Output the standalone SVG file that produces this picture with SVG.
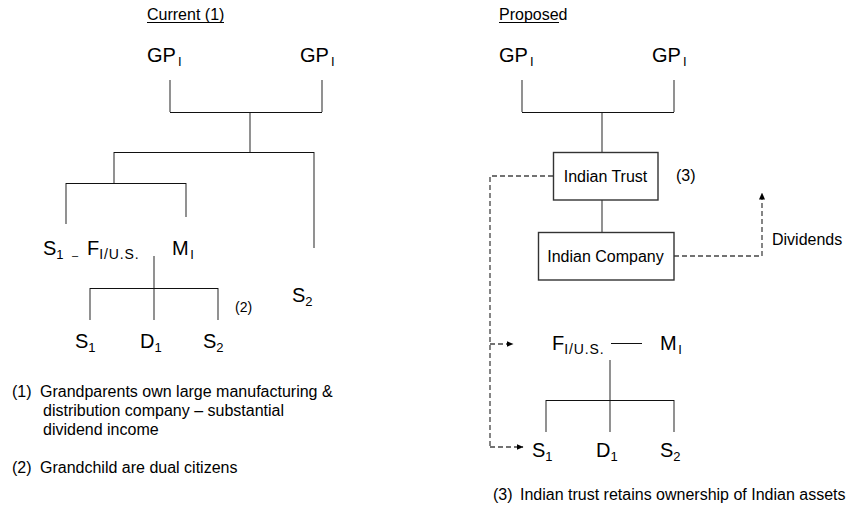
<svg xmlns="http://www.w3.org/2000/svg" width="846" height="508" viewBox="0 0 846 508">
<style>
text{font-family:"Liberation Sans",Arial,sans-serif;fill:#000}
.big{font-size:20px}
.sub{font-size:13px}
.us{font-size:14px;letter-spacing:0.9px}
.sm{font-size:16px}
.v{stroke:#777;stroke-width:1.6;fill:none}
.h{stroke:#111;stroke-width:1;fill:none}
.box{fill:#fff;stroke:#333;stroke-width:1.4}
.d{stroke:#444;stroke-width:1.3;fill:none;stroke-dasharray:5 3}
</style>
<defs>
<marker id="ah" markerWidth="7" markerHeight="6" refX="6.5" refY="3" orient="auto" markerUnits="userSpaceOnUse">
<path d="M0,0 L7,3 L0,6 Z" fill="#000"/>
</marker>
</defs>

<g id="connectors">
<!-- left tree -->
<path class="v" d="M170,80 V112 M322,80 V112 M250,112 V152 M114,152 V183 M66,183 V224 M186,183 V217 M314,152 V248 M154,256 V320 M90,288 V320 M218,288 V320"/>
<path class="h" d="M170,112.5 H322 M114,152.5 H314 M66,183.5 H186 M90,288.5 H218"/>
<!-- right tree -->
<path class="v" d="M522,80 V112 M674,80 V112 M602,112 V152 M602,200 V232 M610,360 V432 M546,400 V432 M674,400 V432"/>
<path class="h" d="M522,112.5 H674 M546,400.5 H674 M611,343.5 H642"/>
<!-- dashed -->
<path class="d" d="M553,176 H490 V447"/>
<path class="d" d="M490,344 H513" marker-end="url(#ah)"/>
<path class="d" d="M490,447 H523" marker-end="url(#ah)"/>
<path class="d" d="M674,256 H762 V193" marker-end="url(#ah)"/>
</g>

<g id="left-title"><text class="sm" x="147" y="20">Current (1)</text><line x1="147" y1="22.5" x2="224" y2="22.5" stroke="#000" stroke-width="1"/></g>
<g id="right-title"><text class="sm" x="499" y="20">Proposed</text><line x1="499" y1="22.5" x2="559" y2="22.5" stroke="#000" stroke-width="1"/></g>

<g id="gp-l1"><text class="big" x="147" y="62">GP<tspan class="sub" dx="2" dy="4">I</tspan></text></g>
<g id="gp-l2"><text class="big" x="300" y="62">GP<tspan class="sub" dx="2" dy="4">I</tspan></text></g>
<g id="gp-r1"><text class="big" x="499" y="62">GP<tspan class="sub" dx="2" dy="4">I</tspan></text></g>
<g id="gp-r2"><text class="big" x="652" y="62">GP<tspan class="sub" dx="2" dy="4">I</tspan></text></g>

<g id="left-couple">
<text class="big" x="43" y="255">S<tspan class="sub" dy="4">1</tspan></text>
<text x="72" y="259" font-size="11">–</text>
<text class="big" x="87" y="255">F<tspan class="us" dy="4">I/U.S.</tspan></text>
<text class="big" x="172" y="255">M<tspan class="sub" dx="1.5" dy="4">I</tspan></text>
</g>
<g id="left-s2"><text class="big" x="292" y="302">S<tspan class="sub" dy="4">2</tspan></text></g>
<g id="note2-mark"><text x="235" y="312" font-size="14">(2)</text></g>
<g id="left-s1"><text class="big" x="75" y="348">S<tspan class="sub" dy="4">1</tspan></text></g>
<g id="left-d1"><text class="big" x="140" y="348">D<tspan class="sub" dy="4">1</tspan></text></g>
<g id="left-s2b"><text class="big" x="203" y="348">S<tspan class="sub" dy="4">2</tspan></text></g>

<g id="footnote1">
<text class="sm" x="12" y="397">(1)</text>
<text class="sm" x="40" y="397">Grandparents own large manufacturing &amp;</text>
<text class="sm" x="43" y="416">distribution company – substantial</text>
<text class="sm" x="43" y="435">dividend income</text>
</g>
<g id="footnote2">
<text class="sm" x="12" y="473">(2)</text>
<text class="sm" x="40" y="473">Grandchild are dual citizens</text>
</g>

<g id="indian-trust"><rect class="box" x="553.5" y="152.5" width="104.5" height="47.5"/><text class="sm" x="605.5" y="182" text-anchor="middle">Indian Trust</text></g>
<g id="note3-mark"><text class="sm" x="676" y="181">(3)</text></g>
<g id="indian-company"><rect class="box" x="538.5" y="232.5" width="135.5" height="47.5"/><text class="sm" x="605.5" y="262" text-anchor="middle">Indian Company</text></g>
<g id="dividends"><text class="sm" x="772" y="245">Dividends</text></g>

<g id="right-f"><text class="big" x="552" y="350">F<tspan class="us" dy="4">I/U.S.</tspan></text></g>
<g id="right-m"><text class="big" x="660" y="350">M<tspan class="sub" dx="1.5" dy="4">I</tspan></text></g>
<g id="right-s1"><text class="big" x="532" y="457">S<tspan class="sub" dy="4">1</tspan></text></g>
<g id="right-d1"><text class="big" x="596" y="457">D<tspan class="sub" dy="4">1</tspan></text></g>
<g id="right-s2"><text class="big" x="660" y="457">S<tspan class="sub" dy="4">2</tspan></text></g>

<g id="footnote3">
<text class="sm" x="493" y="500">(3)</text>
<text class="sm" x="520" y="500">Indian trust retains ownership of Indian assets</text>
</g>
</svg>
